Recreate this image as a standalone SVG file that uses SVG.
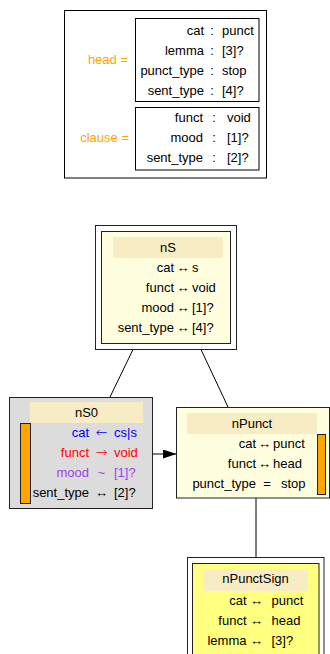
<svg xmlns="http://www.w3.org/2000/svg" width="330" height="654" viewBox="0 0 330 654">
<style>
text{font-family:"Liberation Sans",Arial,sans-serif;font-size:13px;fill:#000}
.r{text-anchor:end}
.m{text-anchor:middle}
.big{font-family:"DejaVu Sans",sans-serif;font-size:14px;font-weight:200}
.box{fill:#fff;stroke:#000;stroke-width:1}
.band{fill:#f8ecc4;stroke:none}
.bar{fill:#ffa500;stroke:#222;stroke-width:1}
.nb{stroke:#222;stroke-width:1}
.edge{stroke:#000;stroke-width:1;fill:none}
.org{fill:#ffa500}
.blue{fill:#0000ff}
.red{fill:#ff0000}
.pur{fill:#a040f0}
</style>
<defs>
<marker id="ah" markerWidth="14" markerHeight="10" refX="13.5" refY="4.5" orient="auto" markerUnits="userSpaceOnUse">
<polygon points="0,0 13.5,4.5 0,9" fill="#000"/>
</marker>
</defs>

<g id="legend">
<rect class="box" x="64.5" y="10.5" width="202" height="167.5"/>
<text class="r org" x="128" y="63.5">head =</text>
<text class="r org" x="129" y="142">clause =</text>
<rect class="box" x="135.5" y="18.5" width="123.5" height="83"/>
<text class="r" x="204" y="34.5">cat</text><text class="m" x="212" y="34.5">:</text><text x="222" y="34.5">punct</text>
<text class="r" x="204" y="54.5">lemma</text><text class="m" x="212" y="54.5">:</text><text x="222" y="54.5">[3]?</text>
<text class="r" x="204" y="74.5">punct_type</text><text class="m" x="212" y="74.5">:</text><text x="222" y="74.5">stop</text>
<text class="r" x="204" y="94.5">sent_type</text><text class="m" x="212" y="94.5">:</text><text x="222" y="94.5">[4]?</text>
<rect class="box" x="135.5" y="107.5" width="123.5" height="62.5"/>
<text class="r" x="203" y="122">funct</text><text class="m" x="214" y="122">:</text><text x="227" y="122">void</text>
<text class="r" x="203" y="142">mood</text><text class="m" x="214" y="142">:</text><text x="227" y="142">[1]?</text>
<text class="r" x="203" y="162">sent_type</text><text class="m" x="214" y="162">:</text><text x="227" y="162">[2]?</text>
</g>

<g id="connectors">
<line class="edge" x1="133" y1="349.5" x2="110" y2="397"/>
<line class="edge" x1="201" y1="349.5" x2="228" y2="407"/>
<line class="edge" x1="152.5" y1="454" x2="176.5" y2="454" marker-end="url(#ah)"/>
<line class="edge" x1="256" y1="498" x2="256" y2="557"/>
</g>

<g id="nS">
<rect class="nb" x="95.5" y="225.5" width="141" height="124" fill="#fff"/>
<rect class="nb" x="101.5" y="231.5" width="129" height="112" fill="#ffffe0"/>
<rect class="band" x="113" y="237" width="110" height="21"/>
<text class="m" x="168" y="252">nS</text>
<text class="r" x="174" y="272">cat</text><text class="m" x="183" y="272">↔</text><text x="192" y="272">s</text>
<text class="r" x="174" y="292">funct</text><text class="m" x="183" y="292">↔</text><text x="192" y="292">void</text>
<text class="r" x="174" y="312">mood</text><text class="m" x="183" y="312">↔</text><text x="192" y="312">[1]?</text>
<text class="r" x="174" y="332">sent_type</text><text class="m" x="183" y="332">↔</text><text x="192" y="332">[4]?</text>
</g>

<g id="nS0">
<rect class="nb" x="9.5" y="397.5" width="143" height="111" fill="#dcdcdc"/>
<rect class="band" x="30" y="402" width="113" height="21"/>
<rect class="bar" x="20.5" y="423.5" width="10" height="80"/>
<text class="m" x="86.5" y="417">nS0</text>
<text class="r blue" x="89" y="437">cat</text><text class="m blue big" x="101.5" y="437">←</text><text class="blue" x="114" y="437">cs|s</text>
<text class="r red" x="89" y="457">funct</text><text class="m red big" x="101.5" y="457">→</text><text class="red" x="114" y="457">void</text>
<text class="r pur" x="89" y="477">mood</text><text class="m pur" x="101.5" y="477">~</text><text class="pur" x="114" y="477">[1]?</text>
<text class="r" x="89" y="497">sent_type</text><text class="m" x="101.5" y="497">↔</text><text x="114" y="497">[2]?</text>
</g>

<g id="nPunct">
<rect class="nb" x="176.5" y="407.5" width="153" height="90.5" fill="#ffffe0"/>
<rect class="band" x="187" y="413" width="130" height="21"/>
<rect class="bar" x="317.5" y="434.5" width="8" height="60"/>
<text class="m" x="252" y="428">nPunct</text>
<text class="r" x="256" y="448">cat</text><text class="m" x="264.5" y="448">↔</text><text x="273" y="448">punct</text>
<text class="r" x="256" y="468">funct</text><text class="m" x="264.5" y="468">↔</text><text x="273" y="468">head</text>
<text class="r" x="256" y="488">punct_type</text><text class="m" x="267" y="488">=</text><text x="281" y="488">stop</text>
</g>

<g id="nPunctSign">
<rect class="nb" x="187.5" y="557.5" width="136.5" height="110" fill="#fff"/>
<rect class="nb" x="192.5" y="563.5" width="126.5" height="100" fill="#ffff80"/>
<rect class="band" x="203" y="569" width="105" height="22"/>
<text class="m" x="255.5" y="583">nPunctSign</text>
<text class="r" x="246.5" y="604.5">cat</text><text class="m" x="256.5" y="604.5">↔</text><text x="271.5" y="604.5">punct</text>
<text class="r" x="246.5" y="624.5">funct</text><text class="m" x="256.5" y="624.5">↔</text><text x="271.5" y="624.5">head</text>
<text class="r" x="246.5" y="644.5">lemma</text><text class="m" x="256.5" y="644.5">↔</text><text x="271.5" y="644.5">[3]?</text>
</g>
</svg>
